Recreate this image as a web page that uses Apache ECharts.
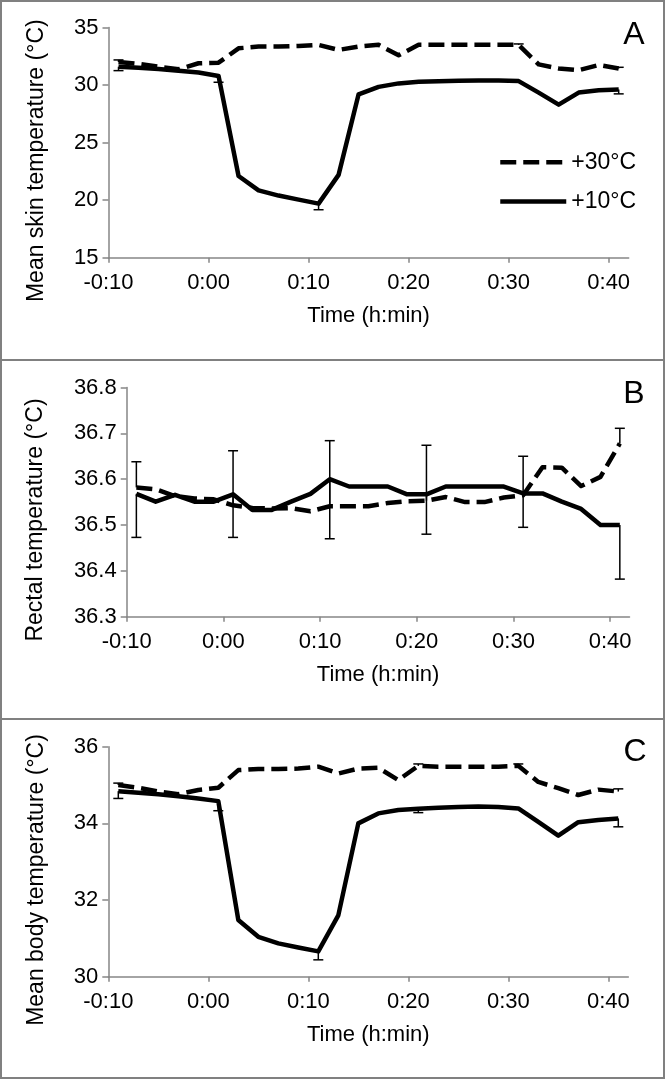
<!DOCTYPE html>
<html lang="en">

<head>
    <meta charset="UTF-8">
    <title>Skin, rectal and body temperature</title>
    <script src="https://cdn.jsdelivr.net/npm/echarts@6.0.0/dist/echarts.min.js"></script>
    <style>
        body {
            margin: 0;
            background: #fff;
        }

        .panel {
            position: absolute;
            left: 0;
            width: 665px;
            height: 361px;
            box-sizing: border-box;
            border: 2px solid #808080;
        }

        #chart {
            position: absolute;
            left: 0;
            top: 0;
            width: 667px;
            height: 1080px;
        }
    </style>
</head>

<body>
    <div class="panel" style="top: 0;"></div>
    <div class="panel" style="top: 359px;"></div>
    <div class="panel" style="top: 718px;"></div>
    <div id="chart"></div>

    <script>
        // minutes relative to start of exposure
        const times = [-9, -7, -5, -3, -1, 1, 3, 5, 7, 9, 11, 13, 15, 17, 19, 21, 23, 25, 27, 29, 31, 33, 35, 37, 39, 41];
        const xTicks = [-10, 0, 10, 20, 30, 40];

        // A: mean skin temperature
        const skin30 = [32.0, 31.85, 31.6, 31.38, 31.9, 31.95, 33.2, 33.35, 33.35, 33.4, 33.5, 33.06, 33.35, 33.5, 32.6, 33.5, 33.5, 33.5, 33.5, 33.5, 33.5, 31.8, 31.45, 31.3, 31.75, 31.45];
        const skin10 = [31.6, 31.5, 31.4, 31.25, 31.1, 30.8, 22.1, 20.85, 20.4, 20.05, 19.7, 22.2, 29.2, 29.85, 30.15, 30.3, 30.34, 30.37, 30.4, 30.4, 30.35, 29.35, 28.3, 29.35, 29.55, 29.62];
        // error bar ends: [time, bound]
        const skin30Err = [[-9, 32.19], [31, 33.58], [41, 31.55]];
        const skin10Err = [[-9, 31.26], [1, 30.25], [11, 19.17], [41, 29.24]];

        // B: rectal temperature
        const rectal30 = [36.582, 36.578, 36.563, 36.558, 36.556, 36.543, 36.537, 36.536, 36.537, 36.53, 36.541, 36.541, 36.541, 36.548, 36.552, 36.553, 36.561, 36.55, 36.55, 36.56, 36.565, 36.626, 36.625, 36.585, 36.605, 36.678];
        const rectal10 = [36.568, 36.551, 36.566, 36.551, 36.551, 36.567, 36.533, 36.533, 36.551, 36.568, 36.600, 36.584, 36.584, 36.584, 36.567, 36.567, 36.584, 36.584, 36.584, 36.584, 36.569, 36.569, 36.551, 36.535, 36.500, 36.500];
        const rectal30Err = [[-9, 36.638], [1, 36.662], [11, 36.684], [21, 36.674], [31, 36.65], [41, 36.711]];
        const rectal10Err = [[-9, 36.473], [1, 36.473], [11, 36.47], [21, 36.48], [31, 36.495], [41, 36.382]];

        // C: mean body temperature
        const body30 = [35.0, 34.93, 34.83, 34.76, 34.87, 34.93, 35.39, 35.42, 35.42, 35.43, 35.48, 35.3, 35.43, 35.45, 35.13, 35.5, 35.48, 35.48, 35.48, 35.48, 35.5, 35.08, 34.92, 34.74, 34.88, 34.83];
        const body10 = [34.84, 34.8, 34.76, 34.71, 34.65, 34.58, 31.48, 31.04, 30.87, 30.76, 30.66, 31.6, 34.0, 34.26, 34.35, 34.38, 34.41, 34.43, 34.44, 34.43, 34.39, 34.04, 33.68, 34.03, 34.09, 34.13];
        const body30Err = [[-9, 35.05], [21, 35.55], [31, 35.55], [41, 34.9]];
        const body10Err = [[-9, 34.65], [1, 34.33], [11, 30.44], [21, 34.28], [41, 33.91]];

        const FONT = '"Liberation Sans", Arial, sans-serif';
        const GRAY = '#868686';
        const DASH = [16, 7];

        const formatTime = v => {
            const a = Math.abs(v);
            return (v < 0 ? '-' : '') + Math.floor(a / 60) + ':' + String(a % 60).padStart(2, '0');
        };

        const makeX = (i) => ({
            type: 'value', gridIndex: i, min: -10, max: 42,
            name: 'Time (h:min)', nameLocation: 'middle', nameGap: 47,
            nameTextStyle: { color: '#000', fontSize: 22, fontFamily: FONT },
            axisLine: { onZero: false, lineStyle: { color: GRAY, width: 1.5 } },
            axisTick: { customValues: xTicks, length: 5, lineStyle: { color: GRAY, width: 1.5 } },
            axisLabel: { customValues: xTicks, margin: 14, color: '#000', fontSize: 22, fontFamily: FONT, formatter: formatTime },
            splitLine: { show: false }
        });

        const makeY = (i, min, max, interval, digits) => ({
            type: 'value', gridIndex: i, min: min, max: max, interval: interval,
            axisLine: { show: true, onZero: false, lineStyle: { color: GRAY, width: 1.5 } },
            axisTick: { show: true, length: 6, lineStyle: { color: GRAY, width: 1.5 } },
            axisLabel: { margin: 10, color: '#000', fontSize: 22, fontFamily: FONT, formatter: v => v.toFixed(digits) },
            splitLine: { show: false }
        });

        const lineSeries = (name, values, i, dashed) => ({
            name: name, type: 'line', xAxisIndex: i, yAxisIndex: i,
            data: times.map((t, k) => [t, values[k]]),
            symbol: 'none', silent: true,
            lineStyle: { color: '#000', width: 4.5, type: dashed ? DASH : 'solid', join: 'round' },
            itemStyle: { color: '#000' }
        });

        const errSeries = (errs, values, i) => ({
            type: 'custom', xAxisIndex: i, yAxisIndex: i, silent: true, clip: false,
            data: errs.map(e => [e[0], values[times.indexOf(e[0])], e[1]]),
            encode: { x: 0, y: [1, 2] },
            renderItem: (params, api) => {
                const p0 = api.coord([api.value(0), api.value(1)]);
                const p1 = api.coord([api.value(0), api.value(2)]);
                const st = { stroke: '#000', lineWidth: 1.5 };
                return {
                    type: 'group', children: [
                        { type: 'line', shape: { x1: p0[0], y1: p0[1], x2: p1[0], y2: p1[1] }, style: st },
                        { type: 'line', shape: { x1: p1[0] - 5, y1: p1[1], x2: p1[0] + 5, y2: p1[1] }, style: st }
                    ]
                };
            }
        });

        const textEl = (text, x, y, size, rotate) => ({
            type: 'text', x: x, y: y, rotation: rotate ? Math.PI / 2 : 0, silent: true,
            style: {
                text: text, fill: '#000', font: size + 'px ' + FONT,
                align: 'center', verticalAlign: 'middle', textAlign: 'center', textVerticalAlign: 'middle'
            }
        });

        const chart = echarts.init(document.getElementById('chart'));

        chart.setOption({
            animation: false,
            grid: [
                { left: 108.5, top: 27.6, width: 520.2, height: 230.1, outerBoundsMode: 'none' },
                { left: 126.7, top: 387.5, width: 502.8, height: 229.2, outerBoundsMode: 'none' },
                { left: 108.3, top: 746.7, width: 520, height: 230, outerBoundsMode: 'none' }
            ],
            xAxis: [makeX(0), makeX(1), makeX(2)],
            yAxis: [makeY(0, 15, 35, 5, 0), makeY(1, 36.3, 36.8, 0.1, 1), makeY(2, 30, 36, 2, 0)],
            legend: {
                data: ['+30°C', '+10°C'],
                orient: 'vertical', left: 498, top: 150.7, padding: 0,
                itemWidth: 66, itemHeight: 22, itemGap: 16.3,
                lineStyle: { width: 4.5 },
                itemStyle: { opacity: 0, borderWidth: 0 },
                textStyle: { color: '#000', fontSize: 23, fontFamily: FONT },
                selectedMode: false
            },
            graphic: [
                textEl('Mean skin temperature (°C)', 37, 160.7, 23, true),
                textEl('Rectal temperature (°C)', 36, 520, 23, true),
                textEl('Mean body temperature (°C)', 37, 880, 23, true),
                textEl('A', 634, 35, 32, false),
                textEl('B', 634, 394, 32, false),
                textEl('C', 635, 752, 32, false)
            ],
            series: [
                lineSeries('+10°C', skin10, 0, false),
                lineSeries('+30°C', skin30, 0, true),
                errSeries(skin10Err, skin10, 0),
                errSeries(skin30Err, skin30, 0),
                lineSeries('+10°C', rectal10, 1, false),
                lineSeries('+30°C', rectal30, 1, true),
                errSeries(rectal10Err, rectal10, 1),
                errSeries(rectal30Err, rectal30, 1),
                lineSeries('+10°C', body10, 2, false),
                lineSeries('+30°C', body30, 2, true),
                errSeries(body10Err, body10, 2),
                errSeries(body30Err, body30, 2)
            ]
        });
    </script>
</body>

</html>
